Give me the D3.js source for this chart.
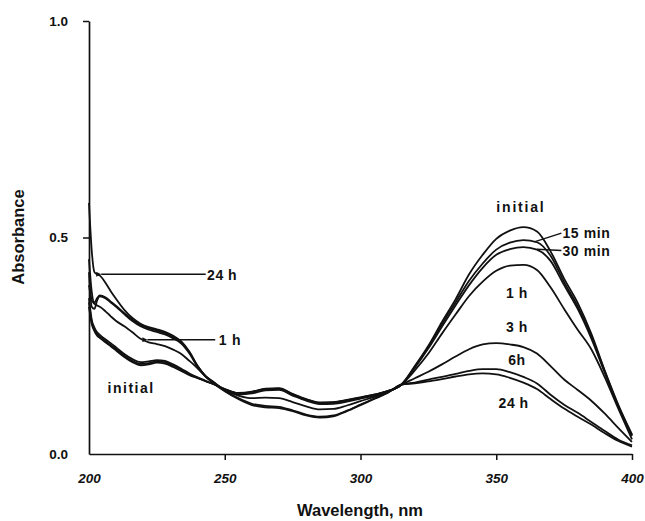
<!DOCTYPE html>
<html>
<head>
<meta charset="utf-8">
<script src="https://cdn.jsdelivr.net/npm/d3@7/dist/d3.min.js"></script>
<style>
  html, body { margin: 0; padding: 0; background: #fff; }
  svg { display: block; }
  text { font-family: "Liberation Sans", Arial, Helvetica, sans-serif; font-weight: bold; fill: #111; }
</style>
</head>
<body>
<svg id="chart" width="645" height="521"></svg>
<script>
// ---- Data ----
const wavelengths = [200,201,202,203,204,206,208,210,213,216,219,222,225,228,231,234,237,240,243,246,
  250,255,260,265,270,275,280,285,290,295,300,305,310,315,320,325,330,335,340,345,350,355,360,365,370,375,380,385,390,395,400];

const seriesNames = ["initial", "15 min", "30 min", "1 h", "3 h", "6 h", "24 h"];

const absInitial = [0.34,0.30,0.284,0.273,0.268,0.258,0.249,0.239,0.224,0.212,0.205,0.207,0.211,0.209,0.201,0.192,0.182,0.175,0.168,0.161,
  0.150,0.141,0.144,0.151,0.152,0.139,0.127,0.119,0.120,0.125,0.131,0.137,0.145,0.160,0.203,0.250,0.305,0.357,0.415,0.460,0.497,0.516,0.524,0.514,0.468,0.405,0.349,0.278,0.192,0.113,0.045];
const abs15min = [0.35,0.305,0.288,0.277,0.271,0.261,0.252,0.242,0.227,0.215,0.208,0.210,0.214,0.212,0.204,0.195,0.184,0.176,0.168,0.161,
  0.150,0.140,0.143,0.150,0.151,0.138,0.126,0.118,0.119,0.124,0.130,0.137,0.145,0.160,0.201,0.247,0.300,0.350,0.400,0.440,0.472,0.488,0.494,0.489,0.458,0.397,0.341,0.272,0.190,0.110,0.043];
const abs30min = [0.36,0.31,0.292,0.281,0.275,0.265,0.256,0.246,0.231,0.219,0.212,0.214,0.217,0.215,0.207,0.197,0.186,0.177,0.169,0.161,
  0.149,0.139,0.142,0.149,0.150,0.137,0.125,0.117,0.118,0.123,0.129,0.136,0.145,0.160,0.199,0.244,0.294,0.343,0.390,0.430,0.460,0.473,0.478,0.472,0.446,0.390,0.335,0.267,0.187,0.108,0.042];
const abs1h = [0.39,0.355,0.347,0.343,0.340,0.330,0.318,0.307,0.295,0.281,0.266,0.258,0.254,0.249,0.241,0.231,0.215,0.198,0.179,0.165,
  0.148,0.138,0.140,0.147,0.148,0.135,0.123,0.115,0.116,0.121,0.128,0.135,0.144,0.160,0.193,0.232,0.278,0.322,0.365,0.398,0.423,0.435,0.437,0.425,0.385,0.335,0.287,0.242,0.177,0.104,0.034];
const abs3h = [0.45,0.375,0.350,0.360,0.366,0.362,0.352,0.342,0.325,0.310,0.298,0.290,0.285,0.279,0.270,0.258,0.235,0.203,0.180,0.166,
  0.147,0.135,0.129,0.130,0.129,0.120,0.110,0.103,0.104,0.112,0.122,0.132,0.143,0.160,0.175,0.190,0.207,0.225,0.242,0.253,0.256,0.253,0.247,0.232,0.203,0.172,0.148,0.123,0.093,0.060,0.028];
const abs6h = [0.42,0.34,0.335,0.355,0.364,0.360,0.350,0.340,0.323,0.307,0.295,0.287,0.282,0.276,0.267,0.255,0.232,0.201,0.178,0.164,
  0.146,0.129,0.116,0.111,0.109,0.101,0.091,0.086,0.089,0.100,0.114,0.128,0.142,0.160,0.165,0.172,0.178,0.185,0.192,0.196,0.196,0.189,0.178,0.163,0.137,0.114,0.095,0.074,0.053,0.033,0.020];
const abs24h = [0.58,0.47,0.420,0.415,0.412,0.396,0.376,0.358,0.333,0.314,0.301,0.293,0.288,0.282,0.273,0.260,0.236,0.203,0.179,0.163,
  0.145,0.127,0.113,0.108,0.106,0.099,0.089,0.084,0.087,0.099,0.113,0.127,0.141,0.160,0.163,0.168,0.173,0.179,0.184,0.186,0.184,0.176,0.165,0.150,0.127,0.105,0.086,0.068,0.048,0.030,0.017];

const xTicks = [200, 250, 300, 350, 400];
const yTicks = [0.0, 0.5, 1.0];
const xTitle = "Wavelength, nm";
const yTitle = "Absorbance";

const allSeries = [absInitial, abs15min, abs30min, abs1h, abs3h, abs6h, abs24h];

// ---- Layout ----
const svg = d3.select("#chart");
const x = d3.scaleLinear().domain([200, 400]).range([89, 632]);
const y = d3.scaleLinear().domain([0, 1]).range([454, 21]);

// defs: arrowhead
svg.append("defs").append("marker")
  .attr("id", "arrow").attr("viewBox", "0 0 10 10")
  .attr("refX", 0).attr("refY", 5)
  .attr("markerWidth", 7).attr("markerHeight", 5)
  .attr("markerUnits", "userSpaceOnUse")
  .attr("orient", "auto-start-reverse")
  .append("path").attr("d", "M0,5 L10,0 L10,10 Z").attr("fill", "#111");

// ---- Axes ----
const xAxis = svg.append("g").attr("transform", `translate(0,${y(0)})`)
  .call(d3.axisBottom(x).tickValues(xTicks).tickSize(6).tickSizeOuter(0).tickPadding(13).tickFormat(d3.format("d")));
xAxis.selectAll("text").attr("font-size", 13.5).attr("font-style", "italic").attr("font-weight", "bold")
  .attr("font-family", "Liberation Sans, Arial, sans-serif").attr("fill", "#111");
xAxis.selectAll(".tick").filter(d => d === 200).select("line").remove();

const yAxis = svg.append("g").attr("transform", `translate(${x(200)},0)`)
  .call(d3.axisLeft(y).tickValues(yTicks).tickSize(6).tickSizeOuter(0).tickPadding(15).tickFormat(d3.format(".1f")));
yAxis.selectAll("text").attr("font-size", 13.5).attr("font-weight", "bold")
  .attr("font-family", "Liberation Sans, Arial, sans-serif").attr("fill", "#111");
yAxis.selectAll(".tick").filter(d => d === 0).select("line").remove();

svg.selectAll(".domain").attr("stroke", "#111").attr("stroke-width", 1.7);
svg.selectAll(".tick line").attr("stroke", "#111").attr("stroke-width", 1.5);

// titles
svg.append("text").attr("x", 360).attr("y", 516).attr("text-anchor", "middle")
  .attr("font-size", 16.5).text(xTitle);
svg.append("text").attr("transform", "translate(24,237) rotate(-90)").attr("text-anchor", "middle")
  .attr("font-size", 16.5).text(yTitle);

// ---- Curves ----
const line = d3.line()
  .x((d, i) => x(wavelengths[i]))
  .y(d => y(d))
  .curve(d3.curveMonotoneX);

svg.append("g").selectAll("path").data(allSeries).join("path")
  .attr("d", d => line(d))
  .attr("fill", "none")
  .attr("stroke", "#111")
  .attr("stroke-width", 1.8)
  .attr("stroke-linejoin", "round");

// ---- Annotations ----
const ann = svg.append("g");
function label(txt, w, a, anchor, size, spacing) {
  ann.append("text").attr("x", x(w)).attr("y", y(a)).attr("dy", "0.36em")
    .attr("text-anchor", anchor).attr("font-size", size)
    .attr("letter-spacing", spacing || 0).text(txt);
}
function leader(w1, a1, w2, a2, arrow) {
  const l = ann.append("line").attr("x1", x(w1)).attr("y1", y(a1)).attr("x2", x(w2)).attr("y2", y(a2))
    .attr("stroke", "#111").attr("stroke-width", 1.4);
  if (arrow) l.attr("marker-end", "url(#arrow)");
}

// left side
leader(243.0, 0.415, 204.5, 0.415, true);
label("24 h", 243.5, 0.413, "start", 14, 0.5);
leader(246.5, 0.264, 221.5, 0.264, true);
label("1 h", 247.8, 0.263, "start", 14, 0.8);
label("initial", 215.5, 0.152, "middle", 14, 1.5);

// right side
label("initial", 359.1, 0.570, "middle", 14, 1.8);
leader(374.0, 0.510, 364.0, 0.490, false);
label("15 min", 374.4, 0.510, "start", 14, 0.6);
leader(374.0, 0.470, 365.0, 0.473, false);
label("30 min", 374.4, 0.470, "start", 14, 0.6);
label("1 h", 357.6, 0.372, "middle", 14, 0.5);
label("3 h", 357.6, 0.293, "middle", 14, 0.5);
label("6h", 357.6, 0.217, "middle", 14, 0.5);
label("24 h", 356.4, 0.118, "middle", 14, 0.5);
</script>
</body>
</html>
